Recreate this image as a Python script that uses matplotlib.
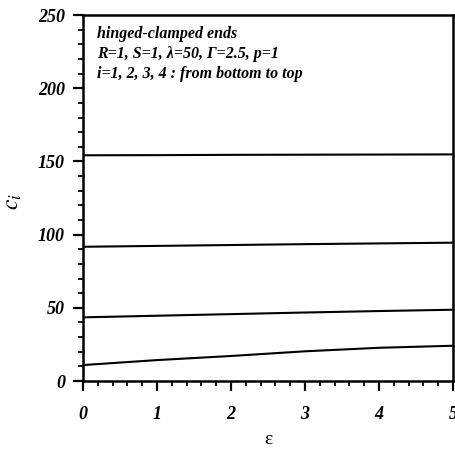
import numpy as np
import matplotlib
matplotlib.use('Agg')
import matplotlib.pyplot as plt
from matplotlib.ticker import MultipleLocator

# values
eps = [0, 1, 2, 3, 4, 5]
c1 = [10.9, 14.3, 17.1, 20.3, 22.7, 24.1]
c2 = [43.5, 44.6, 45.7, 46.8, 47.8, 48.7]
c3 = [91.7, 92.3, 92.9, 93.5, 94.0, 94.5]
c4 = [154.2, 154.3, 154.5, 154.6, 154.7, 154.8]
curves = [c1, c2, c3, c4]

notes = ['hinged-clamped ends',
         'R=1, S=1, \u03bb=50, \u0393=2.5, p=1',
         'i=1, 2, 3, 4 : from bottom to top']

plt.rcParams['font.family'] = ['Liberation Serif', 'DejaVu Serif']
plt.rcParams['mathtext.fontset'] = 'stix'

fig = plt.figure(figsize=(4.55, 4.49), dpi=100)
ax = fig.add_axes([0.1824, 0.1514, 0.8132, 0.8151])

for c in curves:
    ax.plot(eps, c, '-', color='black', linewidth=1.5)

ax.set_xlim(0, 5)
ax.set_ylim(0, 250)
ax.xaxis.set_major_locator(MultipleLocator(1))
ax.xaxis.set_minor_locator(MultipleLocator(0.2))
ax.yaxis.set_major_locator(MultipleLocator(50))
ax.yaxis.set_minor_locator(MultipleLocator(10))

for s in ax.spines.values():
    s.set_linewidth(1.8)
ax.tick_params(which='major', direction='out', length=7, width=1.6)
ax.tick_params(axis='x', which='major', pad=11)
ax.tick_params(axis='y', which='major', pad=6)
ax.tick_params(which='minor', direction='out', length=3.5, width=1.3)

for lab in ax.get_xticklabels() + ax.get_yticklabels():
    lab.set_fontsize(13)
    lab.set_fontweight('bold')
    lab.set_fontstyle('italic')

ax.set_xlabel('\u03b5', fontsize=14, fontstyle='normal', labelpad=6)
ax.set_ylabel('$c_i$', fontsize=17)
ax.yaxis.set_label_coords(-0.16, 0.49)

for k, t in enumerate(notes):
    ax.text(0.038, 0.97 - k * 0.054, t, transform=ax.transAxes, fontsize=11.5,
            fontweight='bold', fontstyle='italic', va='top', ha='left')

fig.savefig('out.png', dpi=100)
